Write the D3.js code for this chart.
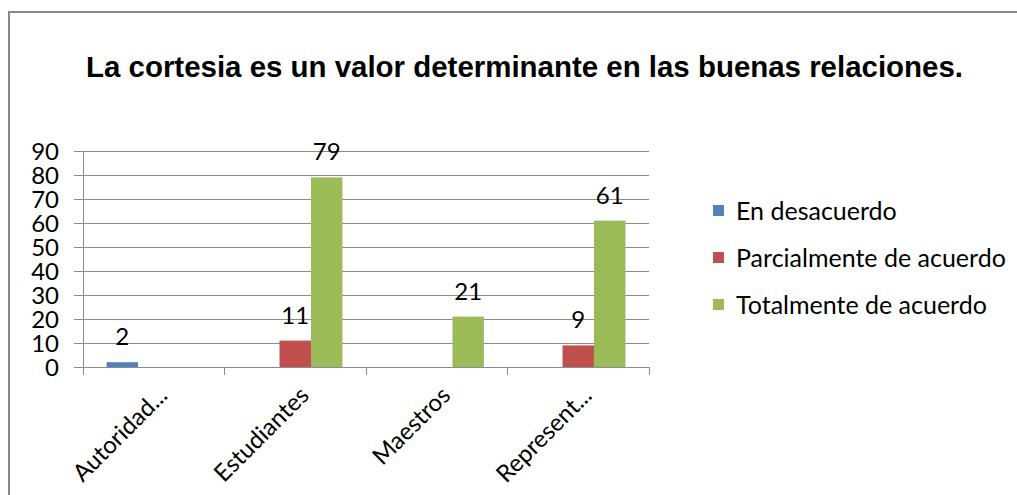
<!DOCTYPE html>
<html><head><meta charset="utf-8">
<script src="https://cdn.jsdelivr.net/npm/d3@7"></script>
<style>html,body{margin:0;padding:0;background:#fff;}svg{display:block;}</style>
</head><body>
<svg id="chart" width="1017" height="495"></svg>
<script>
const title = "La cortesia es un valor determinante en las buenas relaciones.";
const categories = ["Autoridad...", "Estudiantes", "Maestros", "Represent..."];
const seriesNames = ["En desacuerdo", "Parcialmente de acuerdo", "Totalmente de acuerdo"];
const enDesacuerdo = [2, null, null, null];
const parcialmente = [null, 11, null, 9];
const totalmente = [null, 79, 21, 61];
const yTicks = [0, 10, 20, 30, 40, 50, 60, 70, 80, 90];
const colors = ["#4F81BD", "#C0504D", "#9BBB59"];

const seriesValues = [enDesacuerdo, parcialmente, totalmente];
const svg = d3.select("#chart");
const font = "Lato, 'Open Sans', sans-serif";
const fs = 24;
const gridColor = "#8c8c8c";

// chart border
svg.append("rect").attr("x", 9).attr("y", 12).attr("width", 1100).attr("height", 600)
  .attr("fill", "none").attr("stroke", "#888").attr("stroke-width", 2);

// title
svg.append("text").attr("x", 86).attr("y", 77)
  .attr("font-family", "'Liberation Sans', Arial, sans-serif").attr("font-weight", "bold")
  .attr("font-size", 29).attr("textLength", 877).attr("lengthAdjust", "spacingAndGlyphs")
  .attr("fill", "#000").text(title);

const plot = {left: 83, right: 649, top: 151, bottom: 367};
const x0 = d3.scaleBand().domain(categories).range([plot.left, plot.right]).padding(0);
const bw = x0.bandwidth();
const x1 = d3.scaleBand().domain(seriesNames).range([bw * 0.75 / 4.5, bw - bw * 0.75 / 4.5]).padding(0);
const y = d3.scaleLinear().domain([0, 90]).range([plot.bottom, plot.top]);

// gridlines + y ticks
const yAxis = d3.axisLeft(y).tickValues(yTicks).tickSize(-(plot.right - plot.left)).tickPadding(0).tickFormat("");
const gy = svg.append("g").attr("transform", `translate(${plot.left},0)`).call(yAxis);
gy.select(".domain").remove();
gy.selectAll(".tick line").attr("stroke", gridColor).attr("x1", -9).attr("shape-rendering", "crispEdges");
svg.append("g").selectAll("text").data(yTicks).join("text")
  .attr("x", 59).attr("y", d => y(d)).attr("dy", "0.36em").attr("text-anchor", "end")
  .attr("font-family", font).attr("font-size", fs).attr("fill", "#000").text(d => d);

// y axis line
svg.append("line").attr("x1", plot.left).attr("x2", plot.left).attr("y1", plot.top).attr("y2", plot.bottom)
  .attr("stroke", gridColor).attr("shape-rendering", "crispEdges");

// x axis
const boundaries = categories.map(c => x0(c)).concat([plot.right]);
svg.append("line").attr("x1", plot.left).attr("x2", plot.right).attr("y1", plot.bottom).attr("y2", plot.bottom)
  .attr("stroke", gridColor).attr("shape-rendering", "crispEdges");
svg.append("g").selectAll("line").data(boundaries).join("line")
  .attr("x1", d => d).attr("x2", d => d).attr("y1", plot.bottom).attr("y2", plot.bottom + 8)
  .attr("stroke", gridColor).attr("shape-rendering", "crispEdges");

// bars
const barData = [];
seriesValues.forEach((vals, si) => vals.forEach((v, ci) => {
  if (v !== null) barData.push({cat: categories[ci], s: seriesNames[si], v, si});
}));
svg.append("g").selectAll("rect").data(barData).join("rect")
  .attr("x", d => x0(d.cat) + x1(d.s)).attr("width", x1.bandwidth())
  .attr("y", d => y(d.v)).attr("height", d => y(0) - y(d.v))
  .attr("fill", d => colors[d.si]);
svg.append("g").selectAll("text").data(barData).join("text")
  .attr("x", d => x0(d.cat) + x1(d.s) + x1.bandwidth() / 2).attr("y", d => y(d.v) - 17)
  .attr("text-anchor", "middle").attr("font-family", font).attr("font-size", fs).attr("fill", "#000")
  .text(d => d.v);

// x labels
svg.append("g").selectAll("text").data(categories).join("text")
  .attr("transform", d => `translate(${x0(d) + bw / 2 + 15},${plot.bottom + 30}) rotate(-45)`)
  .attr("text-anchor", "end").attr("font-family", font).attr("font-size", fs).attr("fill", "#000")
  .text(d => d);

// legend
const lg = svg.append("g");
const rowY = [211, 258, 305];
seriesNames.forEach((n, i) => {
  lg.append("rect").attr("x", 713).attr("y", rowY[i] - 6).attr("width", 11).attr("height", 11).attr("fill", colors[i]);
  lg.append("text").attr("x", 736).attr("y", rowY[i]).attr("dy", "0.36em")
    .attr("font-family", font).attr("font-size", 25).attr("fill", "#000").text(n);
});
</script>
</body></html>
